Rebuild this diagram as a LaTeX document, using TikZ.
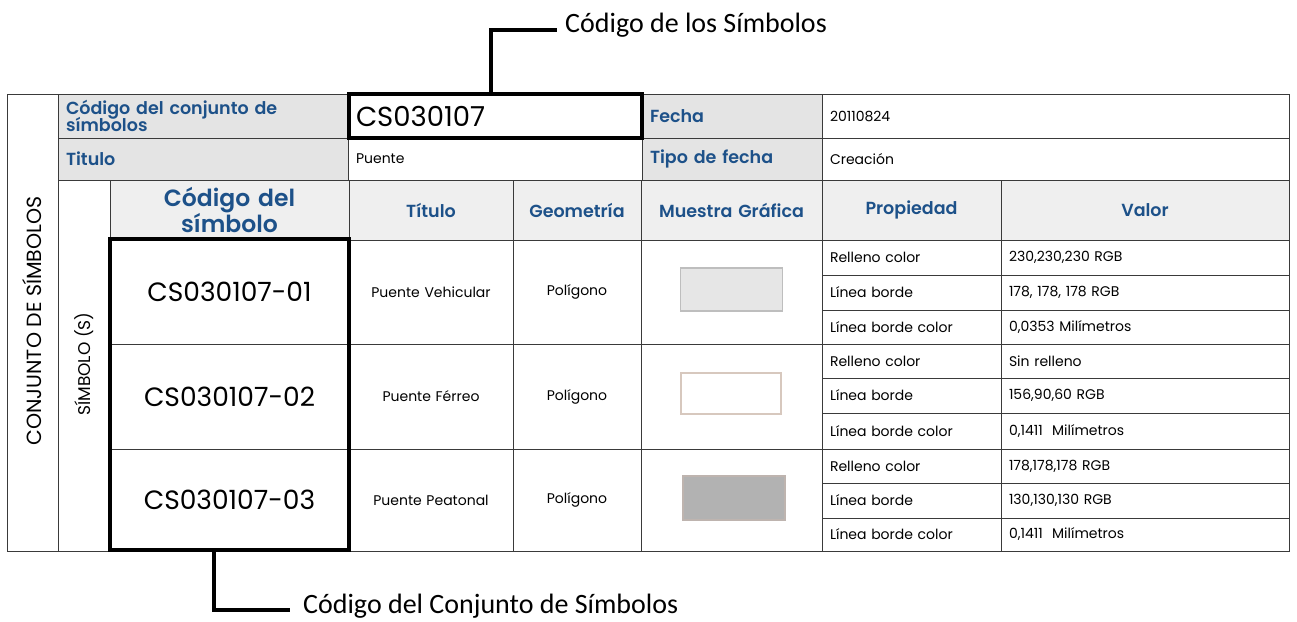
\documentclass[tikz,border=0pt]{standalone}
\usepackage{fontspec}
\setmainfont{Poppins}
\newfontfamily\calib{Carlito}
\newfontfamily\semib{Poppins SemiBold}
\definecolor{hblue}{HTML}{1D5189}
\definecolor{gridc}{HTML}{3A3A3A}
\definecolor{patfill}{HTML}{E4E4E4}
\definecolor{hdrfill}{HTML}{EFEFEF}
\definecolor{sw1fill}{RGB}{230,230,230}
\definecolor{sw1line}{RGB}{190,190,190}
\definecolor{sw2line}{RGB}{215,200,190}
\definecolor{sw3fill}{RGB}{178,178,178}
\definecolor{sw3line}{RGB}{190,180,175}
\tikzset{
  cellbox/.style={draw=gridc, line width=0.9pt, inner xsep=8pt, inner ysep=0pt,
    align=left, font=\fontsize{14}{16}\selectfont, text=black, anchor=center},
  labcell/.style={fill=patfill, text=hblue, font=\semib\fontsize{17.5}{18}\selectfont},
  hdrcell/.style={fill=hdrfill, text=hblue, align=center, font=\semib\fontsize{17.5}{20}\selectfont},
  bigcode/.style={font=\fontsize{26.5}{28}\selectfont, align=center},
  midcell/.style={align=center},
  thickbox/.style={draw=black, line width=3.5pt, inner sep=0pt, fill=none},
  conn/.style={draw=black, line width=4pt},
  callout/.style={font=\calib\fontsize{28}{32}\selectfont, inner sep=0pt, anchor=base west},
  swatch/.style={inner sep=0pt, line width=1.2pt},
  rottext/.style={rotate=90, font=\fontsize{20.5}{22}\selectfont, inner sep=0pt}
}
\newcommand\tcell[7]{%
  \pgfmathsetmacro\cw{#4-#2-16}\pgfmathsetmacro\ch{#5-#3}%
  \pgfmathsetmacro\cx{(#2+#4)/2}\pgfmathsetmacro\cy{(#3+#5)/2}%
  \node[cellbox,minimum height=\ch pt,text width=\cw pt,#6] (#1) at (\cx,\cy) {#7};}
\begin{document}
\begin{tikzpicture}[x=1pt,y=-1pt]
\useasboundingbox (0,0) rectangle (1297,621);
\fill[white] (0,0) rectangle (1297,621);
% left columns
\tcell{conj}{7}{94}{58}{551}{}{}
\node[rottext] (conjt) at (32.5,321) {CONJUNTO DE SÍMBOLOS};
\tcell{simb}{58}{180}{110}{551}{}{}
\node[rottext, font=\fontsize{17}{18}\selectfont] (simbt) at (84,364) {SÍMBOLO (S)};
% top rows
\tcell{l1}{58}{94}{348}{138}{labcell}{Código del conjunto de\\[-3pt]símbolos}
\tcell{v1}{348}{94}{642}{138}{font=\fontsize{27.5}{29}\selectfont, align=left}{CS030107}
\tcell{l2}{642}{94}{822}{138}{labcell}{Fecha}
\tcell{v2}{822}{94}{1289}{138}{}{20110824}
\tcell{l3}{58}{138}{348}{180}{labcell}{Titulo}
\tcell{v3}{348}{138}{642}{180}{}{Puente}
\tcell{l4}{642}{138}{822}{180}{labcell}{Tipo de fecha}
\tcell{v4}{822}{138}{1289}{180}{}{Creación}
% header
\tcell{h1}{110}{180}{349}{240}{hdrcell, font=\semib\fontsize{23.5}{25}\selectfont}{Código del\\símbolo}
\tcell{h2}{349}{180}{513}{240}{hdrcell}{Título}
\tcell{h3}{513}{180}{641}{240}{hdrcell}{Geometría}
\tcell{h4}{641}{180}{822}{240}{hdrcell}{Muestra Gráfica}
\tcell{h5}{822}{180}{1001}{240}{hdrcell}{Propiedad}
\tcell{h6}{1001}{180}{1289}{240}{hdrcell}{Valor}
% group 1
\tcell{c1}{110}{240}{349}{344}{bigcode}{CS030107-01}
\tcell{t1}{349}{240}{513}{344}{midcell}{Puente Vehicular}
\tcell{g1}{513}{240}{641}{344}{midcell}{Polígono}
\tcell{m1}{641}{240}{822}{344}{}{}
\tcell{p1a}{822}{240}{1001}{275}{}{Relleno color}
\tcell{p1b}{822}{275}{1001}{310}{}{Línea borde}
\tcell{p1c}{822}{310}{1001}{344}{}{Línea borde color}
\tcell{r1a}{1001}{240}{1289}{275}{}{230,230,230 RGB}
\tcell{r1b}{1001}{275}{1289}{310}{}{178, 178, 178 RGB}
\tcell{r1c}{1001}{310}{1289}{344}{}{0,0353 Milímetros}
% group 2
\tcell{c2}{110}{344}{349}{449}{bigcode}{CS030107-02}
\tcell{t2}{349}{344}{513}{449}{midcell}{Puente Férreo}
\tcell{g2}{513}{344}{641}{449}{midcell}{Polígono}
\tcell{m2}{641}{344}{822}{449}{}{}
\tcell{p2a}{822}{344}{1001}{378}{}{Relleno color}
\tcell{p2b}{822}{378}{1001}{413}{}{Línea borde}
\tcell{p2c}{822}{413}{1001}{449}{}{Línea borde color}
\tcell{r2a}{1001}{344}{1289}{378}{}{Sin relleno}
\tcell{r2b}{1001}{378}{1289}{413}{}{156,90,60 RGB}
\tcell{r2c}{1001}{413}{1289}{449}{}{0,1411\ \ Milímetros}
% group 3
\tcell{c3}{110}{449}{349}{551}{bigcode}{CS030107-03}
\tcell{t3}{349}{449}{513}{551}{midcell}{Puente Peatonal}
\tcell{g3}{513}{449}{641}{551}{midcell}{Polígono}
\tcell{m3}{641}{449}{822}{551}{}{}
\tcell{p3a}{822}{449}{1001}{483}{}{Relleno color}
\tcell{p3b}{822}{483}{1001}{518}{}{Línea borde}
\tcell{p3c}{822}{518}{1001}{551}{}{Línea borde color}
\tcell{r3a}{1001}{449}{1289}{483}{}{178,178,178 RGB}
\tcell{r3b}{1001}{483}{1289}{518}{}{130,130,130 RGB}
\tcell{r3c}{1001}{518}{1289}{551}{}{0,1411\ \ Milímetros}
% swatches
\node[swatch, draw=sw1line, fill=sw1fill, minimum width=102pt, minimum height=43pt] (sw1) at (731.5,289.5) {};
\node[swatch, draw=sw2line, fill=white, minimum width=100pt, minimum height=41pt] (sw2) at (731,393.5) {};
\node[swatch, draw=sw3line, fill=sw3fill, minimum width=102pt, minimum height=44pt] (sw3) at (734,498) {};
% thick boxes
\node[thickbox, minimum width=293pt, minimum height=44pt] (box1) at (495.5,116) {};
\node[thickbox, minimum width=239pt, minimum height=311pt] (box2) at (229.5,394.5) {};
% callouts
\node[callout] (lab1) at (565,32) {Código de los Símbolos};
\node[callout] (lab2) at (303,613) {Código del Conjunto de Símbolos};
\draw[conn] ([xshift=-4.5pt]box1.north) |- ([xshift=-8pt,yshift=2pt]lab1.base west);
\draw[conn] ([xshift=-15.5pt]box2.south) |- ([xshift=-13pt,yshift=3pt]lab2.base west);
\end{tikzpicture}
\end{document}
